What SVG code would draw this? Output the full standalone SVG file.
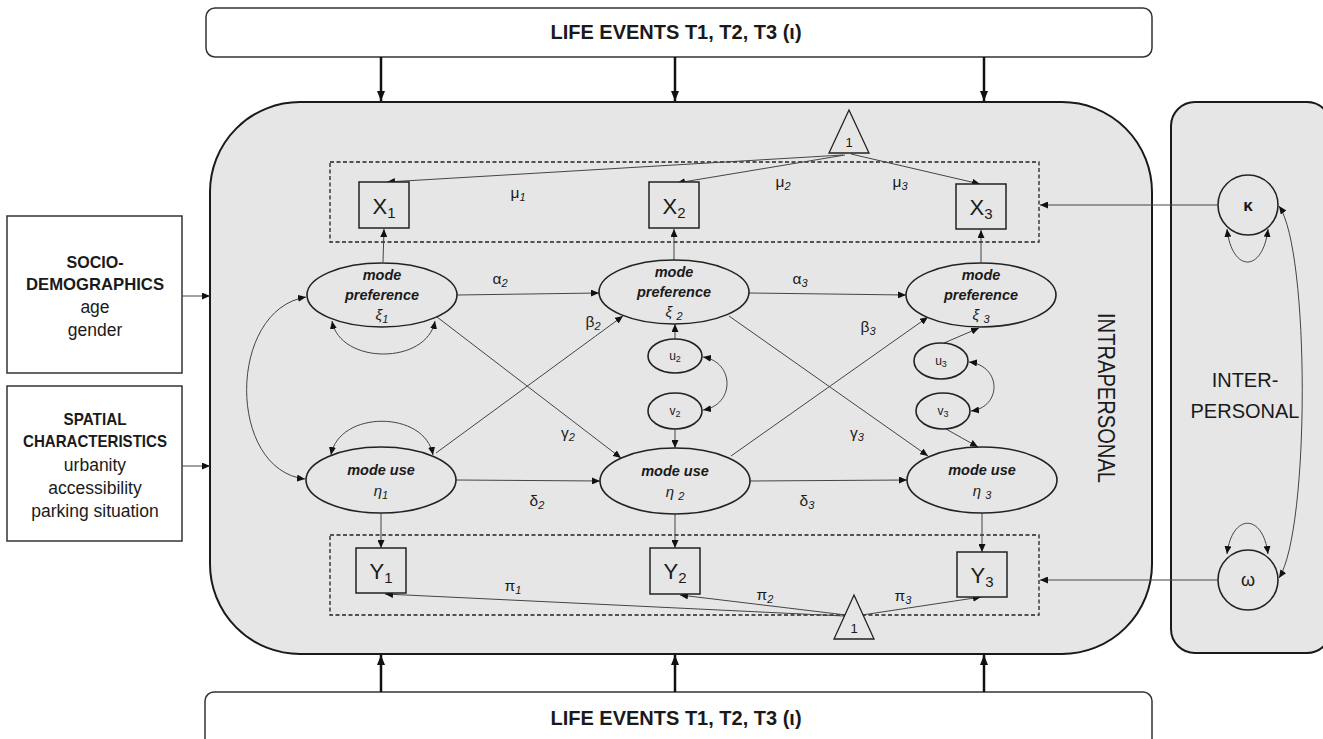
<svg xmlns="http://www.w3.org/2000/svg" width="1323" height="739" viewBox="0 0 1323 739">
<style>
text{font-family:"Liberation Sans",Arial,sans-serif;fill:#1a1a1a}
.bg{fill:#e6e6e6}
.panel{fill:#e6e6e6;stroke:#1a1a1a;stroke-width:2}
.wbox{fill:#fff;stroke:#333;stroke-width:1.5}
.dash{fill:none;stroke:#222;stroke-width:1.3;stroke-dasharray:4 2.5}
.sq{fill:#e6e6e6;stroke:#222;stroke-width:1.5}
.el{fill:#e6e6e6;stroke:#222;stroke-width:1.6}
.ln{fill:none;stroke:#444;stroke-width:1;marker-end:url(#a)}
.dbl{fill:none;stroke:#444;stroke-width:1;marker-start:url(#a);marker-end:url(#a)}
.thick{fill:none;stroke:#111;stroke-width:2.5;marker-end:url(#t)}
.mode{font-weight:bold;font-style:italic;font-size:14.5px;text-anchor:middle}
.gr{font-size:15.5px;text-anchor:middle}
.sub{font-size:11px;font-style:italic}
.bigl{font-size:22px;text-anchor:middle}
.head{font-weight:bold;font-size:20px;text-anchor:middle}
.lb{font-weight:bold;font-size:17px;text-anchor:middle}
.lr{font-size:17.5px;text-anchor:middle}
</style>
<defs>
<marker id="a" viewBox="0 0 8 7" refX="8" refY="3.5" markerWidth="8" markerHeight="7" markerUnits="userSpaceOnUse" orient="auto-start-reverse"><path d="M0,0 L8,3.5 L0,7 z" fill="#111"/></marker>
<marker id="t" viewBox="0 0 10 8" refX="10" refY="4" markerWidth="10" markerHeight="8" markerUnits="userSpaceOnUse" orient="auto"><path d="M0,0 L10,4 L0,8 z" fill="#111"/></marker>
</defs>
<rect width="1323" height="739" fill="#fff"/>

<g id="intrapersonal">
<rect class="panel" x="210" y="102" width="942" height="552" rx="90" ry="90"/>
<text transform="translate(1098,398) rotate(90)" font-size="24" text-anchor="middle" textLength="170" lengthAdjust="spacingAndGlyphs">INTRAPERSONAL</text>
</g>
<g id="interpersonal">
<rect class="panel" x="1171" y="102" width="160" height="551" rx="24" ry="24" stroke-width="1.5"/>
<text x="1245" y="387" font-size="20" text-anchor="middle">INTER-</text>
<text x="1245" y="418" font-size="20" text-anchor="middle">PERSONAL</text>
</g>

<g id="life-events-top">
<rect class="wbox" x="206" y="8" width="946" height="49" rx="9"/>
<text class="head" x="676" y="39">LIFE EVENTS T1, T2, T3 (ι)</text>
</g>
<g id="life-events-bottom">
<rect class="wbox" x="205" y="692" width="947" height="60" rx="9"/>
<text class="head" x="676" y="725">LIFE EVENTS T1, T2, T3 (ι)</text>
</g>

<g id="socio">
<rect class="wbox" x="7" y="216" width="175" height="157"/>
<text class="lb" x="95" y="268" textLength="57" lengthAdjust="spacingAndGlyphs">SOCIO-</text>
<text class="lb" x="95" y="290" textLength="138" lengthAdjust="spacingAndGlyphs">DEMOGRAPHICS</text>
<text class="lr" x="95" y="313">age</text>
<text class="lr" x="95" y="336">gender</text>
</g>
<g id="spatial">
<rect class="wbox" x="7" y="386" width="175" height="155"/>
<text class="lb" x="95" y="425" textLength="63" lengthAdjust="spacingAndGlyphs">SPATIAL</text>
<text class="lb" x="95" y="447" textLength="144" lengthAdjust="spacingAndGlyphs">CHARACTERISTICS</text>
<text class="lr" x="95" y="471">urbanity</text>
<text class="lr" x="95" y="494">accessibility</text>
<text class="lr" x="95" y="517">parking situation</text>
</g>

<g id="measurement-boxes">
<rect class="dash" x="330" y="162" width="709" height="80"/>
<rect class="dash" x="330" y="535" width="709" height="80"/>
</g>

<g id="connectors">
<path class="thick" d="M381,57 L381,101"/>
<path class="thick" d="M675,57 L675,101"/>
<path class="thick" d="M984,57 L984,101"/>
<path class="thick" d="M381,692 L381,655"/>
<path class="thick" d="M675,692 L675,655"/>
<path class="thick" d="M984,692 L984,655"/>
<path class="ln" d="M182,296 L210,296"/>
<path class="ln" d="M182,466 L210,466"/>
<path class="ln" d="M383,262 L384,229"/>
<path class="ln" d="M674,260 L674,229"/>
<path class="ln" d="M981,262 L981,230"/>
<path class="ln" d="M381,513 L381,548"/>
<path class="ln" d="M675,514 L675,548"/>
<path class="ln" d="M982,513 L982,552"/>
<path class="ln" d="M843,155 L387,182"/>
<path class="ln" d="M845,155 L677,183"/>
<path class="ln" d="M851,154 L980,184"/>
<path class="ln" d="M844,616 L385,594"/>
<path class="ln" d="M846,615 L680,595"/>
<path class="ln" d="M862,615 L981,597"/>
<path class="ln" d="M457,295 L599,293"/>
<path class="ln" d="M749,293 L906,295"/>
<path class="ln" d="M456,480 L600,481"/>
<path class="ln" d="M750,481 L907,480"/>
<path class="ln" d="M437,317 L621,458"/>
<path class="ln" d="M436,453 L623,316"/>
<path class="ln" d="M729,316 L928,456"/>
<path class="ln" d="M731,456 L928,317"/>
<path class="ln" d="M675,339 L675,324"/>
<path class="ln" d="M675,429 L675,448"/>
<path class="ln" d="M944,343 L979,328"/>
<path class="ln" d="M946,429 L978,447"/>
<path class="ln" d="M1217,205 L1040,205"/>
<path class="ln" d="M1217,580 L1040,580"/>
<path class="dbl" d="M332,321 C340,365 427,365 435,321"/>
<path class="dbl" d="M331,455 C339,410 425,410 433,455"/>
<path class="dbl" d="M306,297 C227,310 227,470 305,479"/>
<path class="dbl" d="M703,357 C735,362 735,405 703,410"/>
<path class="dbl" d="M969,362 C1002,366 1002,407 971,411"/>
<path class="dbl" d="M1227,229 C1232,273 1263,273 1268,229"/>
<path class="dbl" d="M1227,554 C1232,513 1263,513 1268,554"/>
<path class="dbl" d="M1279,206 C1310,250 1310,530 1279,578"/>
</g>

<g id="labels">
<text class="gr" x="518" y="198">μ<tspan class="sub" dy="3">1</tspan></text>
<text class="gr" x="783" y="187">μ<tspan class="sub" dy="3" font-style="normal">2</tspan></text>
<text class="gr" x="900" y="187">μ<tspan class="sub" dy="3">3</tspan></text>
<text class="gr" x="500" y="284">α<tspan class="sub" dy="3">2</tspan></text>
<text class="gr" x="800" y="284">α<tspan class="sub" dy="3">3</tspan></text>
<text class="gr" x="593" y="327">β<tspan class="sub" dy="3">2</tspan></text>
<text class="gr" x="868" y="332">β<tspan class="sub" dy="3">3</tspan></text>
<text class="gr" x="568" y="438">γ<tspan class="sub" dy="3">2</tspan></text>
<text class="gr" x="857" y="438">γ<tspan class="sub" dy="3">3</tspan></text>
<text class="gr" x="537" y="506">δ<tspan class="sub" dy="3">2</tspan></text>
<text class="gr" x="807" y="506">δ<tspan class="sub" dy="3">3</tspan></text>
<text class="gr" x="513" y="591">π<tspan class="sub" dy="3">1</tspan></text>
<text class="gr" x="765" y="600">π<tspan class="sub" dy="3" font-style="normal">2</tspan></text>
<text class="gr" x="903" y="601">π<tspan class="sub" dy="3" font-style="normal">3</tspan></text>
</g>

<g id="const-top">
<path d="M849,110 L869,153 L829,153 z" fill="#e6e6e6" stroke="#222" stroke-width="1.3"/>
<text x="849" y="147" font-size="13" text-anchor="middle">1</text>
</g>
<g id="const-bottom">
<path d="M854,595 L874,639 L834,639 z" fill="#e6e6e6" stroke="#222" stroke-width="1.3"/>
<text x="854" y="633" font-size="13" text-anchor="middle">1</text>
</g>

<g id="X1"><rect class="sq" x="359" y="182" width="50" height="46"/><text class="bigl" x="384" y="214">X<tspan font-size="15" dy="4">1</tspan></text></g>
<g id="X2"><rect class="sq" x="649" y="182" width="50" height="46"/><text class="bigl" x="674" y="214">X<tspan font-size="15" dy="4">2</tspan></text></g>
<g id="X3"><rect class="sq" x="956" y="184" width="50" height="45"/><text class="bigl" x="981" y="215">X<tspan font-size="15" dy="4">3</tspan></text></g>
<g id="Y1"><rect class="sq" x="356" y="548" width="50" height="45"/><text class="bigl" x="381" y="579">Y<tspan font-size="15" dy="4">1</tspan></text></g>
<g id="Y2"><rect class="sq" x="650" y="548" width="50" height="46"/><text class="bigl" x="675" y="579">Y<tspan font-size="15" dy="4">2</tspan></text></g>
<g id="Y3"><rect class="sq" x="957" y="552" width="50" height="45"/><text class="bigl" x="982" y="583">Y<tspan font-size="15" dy="4">3</tspan></text></g>

<g id="xi1"><ellipse class="el" cx="382" cy="295" rx="75" ry="32"/>
<text class="mode" x="382" y="280">mode</text><text class="mode" x="382" y="300">preference</text>
<text x="382" y="320" font-size="15" font-style="italic" text-anchor="middle">ξ<tspan font-size="11" dy="3">1</tspan></text></g>
<g id="xi2"><ellipse class="el" cx="674" cy="292" rx="75" ry="32"/>
<text class="mode" x="674" y="277">mode</text><text class="mode" x="674" y="297">preference</text>
<text x="674" y="317" font-size="15" font-style="italic" text-anchor="middle">ξ <tspan font-size="11" dy="3">2</tspan></text></g>
<g id="xi3"><ellipse class="el" cx="981" cy="295" rx="75" ry="32"/>
<text class="mode" x="981" y="280">mode</text><text class="mode" x="981" y="300">preference</text>
<text x="981" y="320" font-size="15" font-style="italic" text-anchor="middle">ξ <tspan font-size="11" dy="3">3</tspan></text></g>

<g id="eta1"><ellipse class="el" cx="381" cy="480" rx="75" ry="33"/>
<text class="mode" x="381" y="475">mode use</text>
<text x="381" y="496" font-size="15" font-style="italic" text-anchor="middle">η<tspan font-size="11" dy="3">1</tspan></text></g>
<g id="eta2"><ellipse class="el" cx="675" cy="481" rx="75" ry="33"/>
<text class="mode" x="675" y="476">mode use</text>
<text x="675" y="497" font-size="15" font-style="italic" text-anchor="middle">η <tspan font-size="11" dy="3">2</tspan></text></g>
<g id="eta3"><ellipse class="el" cx="982" cy="480" rx="75" ry="33"/>
<text class="mode" x="982" y="475">mode use</text>
<text x="982" y="496" font-size="15" font-style="italic" text-anchor="middle">η <tspan font-size="11" dy="3">3</tspan></text></g>

<g id="u2"><ellipse class="el" cx="675" cy="356" rx="27" ry="17" stroke-width="1.3"/><text x="675" y="360" font-size="12" text-anchor="middle">u<tspan font-size="9" dy="2">2</tspan></text></g>
<g id="v2"><ellipse class="el" cx="675" cy="411" rx="27" ry="18" stroke-width="1.3"/><text x="675" y="415" font-size="12" text-anchor="middle">v<tspan font-size="9" dy="2">2</tspan></text></g>
<g id="u3"><ellipse class="el" cx="941" cy="361" rx="27" ry="18" stroke-width="1.3"/><text x="941" y="365" font-size="12" text-anchor="middle">u<tspan font-size="9" dy="2">3</tspan></text></g>
<g id="v3"><ellipse class="el" cx="943" cy="411" rx="27" ry="18" stroke-width="1.3"/><text x="943" y="415" font-size="12" text-anchor="middle">v<tspan font-size="9" dy="2">3</tspan></text></g>

<g id="kappa"><circle class="el" cx="1248" cy="205" r="30"/><text x="1248" y="211" font-size="17" font-weight="bold" text-anchor="middle">κ</text></g>
<g id="omega"><circle class="el" cx="1248" cy="580" r="30"/><text x="1248" y="586" font-size="18" text-anchor="middle">ω</text></g>
</svg>
